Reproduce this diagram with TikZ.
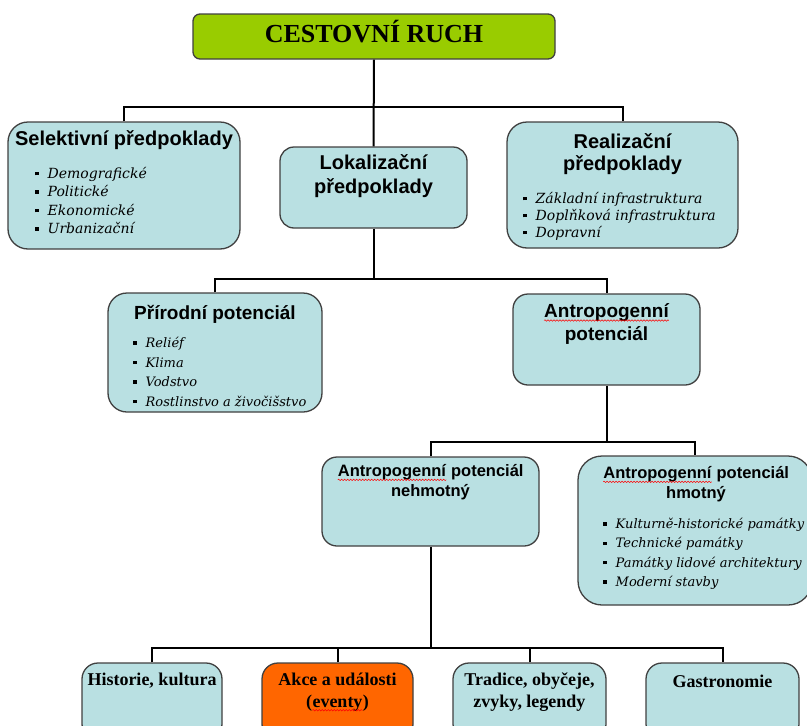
\documentclass[tikz,border=0pt]{standalone}
\usepackage{fontspec}
\setmainfont{Liberation Serif}
\setsansfont{Liberation Sans}
\newfontfamily\itemfont{DejaVu Serif}
\usetikzlibrary{decorations.pathmorphing}

\definecolor{boxblue}{RGB}{185,224,226}
\definecolor{boxgreen}{RGB}{153,204,0}
\definecolor{boxorange}{RGB}{255,102,0}
\definecolor{boxline}{RGB}{64,64,64}

\newcommand\blt{\rule[0.22em]{3.5pt}{3.5pt}\hspace{9pt}}
\newcommand\wavy[1]{\tikz[baseline=(w.base)]{\node[inner sep=0pt,anchor=base] (w) {#1};
  \draw[red,line width=0.5pt,decorate,decoration={snake,amplitude=0.7pt,segment length=3pt}]
    ([yshift=-3pt]w.base west) -- ([yshift=-3pt]w.base east);}}

\begin{document}
\begin{tikzpicture}[x=1pt,y=-1pt,
  box/.style={draw=boxline,line width=1.3pt,fill=boxblue,rounded corners=#1,inner sep=0pt},
  box/.default=16pt,
  head/.style 2 args={font=\sffamily\bfseries\fontsize{#1}{#2}\selectfont,align=center,inner sep=0pt},
  items/.style 2 args={font=\itemfont\itshape\fontsize{#1}{#2}\selectfont,align=left,anchor=north west,inner sep=0pt},
  serifhead/.style={font=\bfseries\fontsize{18}{22}\selectfont,align=center,inner sep=0pt},
  link/.style={line width=2pt}]
\useasboundingbox (0,0) rectangle (807,726);
\clip (0,0) rectangle (807,726);

% boxes
\node[box=7pt,fill=boxgreen,minimum width=362pt,minimum height=45pt] (ruch) at (374,36.5) {};
\node[box=20pt,minimum width=232pt,minimum height=127pt] (sel) at (124,185.5) {};
\node[box=14pt,minimum width=187pt,minimum height=81pt] (lok) at (373.5,187.5) {};
\node[box=20pt,minimum width=231pt,minimum height=126pt] (real) at (622.5,185) {};
\node[box=19pt,minimum width=214pt,minimum height=119pt] (prir) at (215,352.5) {};
\node[box=15pt,minimum width=187pt,minimum height=91pt] (antr) at (606.5,339.5) {};
\node[box=15pt,minimum width=217pt,minimum height=89pt] (nehm) at (430.5,501.5) {};
\node[box=24pt,minimum width=234pt,minimum height=149pt] (hmot) at (695,530.5) {};
\node[box,minimum width=140pt,minimum height=77pt] (hist) at (152,701.5) {};
\node[box,fill=boxorange,minimum width=151pt,minimum height=77pt] (akce) at (337.5,701.5) {};
\node[box,minimum width=153pt,minimum height=77pt] (trad) at (529.5,701.5) {};
\node[box,minimum width=153pt,minimum height=77pt] (gast) at (722.5,701.5) {};

% texts
\node[font=\bfseries\fontsize{26}{30}\selectfont,inner sep=0pt] (ruchT) at (374,32) {CESTOVNÍ RUCH};
\node[head={20}{24}] (selT) at (124,140) {Selektivní předpoklady};
\node[items={14}{18.5}] (selI) at (35,167) {\blt Demografické\\\blt Politické\\\blt Ekonomické\\\blt Urbanizační};
\node[head={20}{24}] (lokT) at (373.5,176.5) {Lokalizační\\předpoklady};
\node[head={20}{22}] (realT) at (622.5,154) {Realizační\\předpoklady};
\node[items={14}{17}] (realI) at (523,192) {\blt Základní infrastruktura\\\blt Doplňková infrastruktura\\\blt Dopravní};
\node[head={19}{23}] (prirT) at (215,314) {Přírodní potenciál};
\node[items={13}{19.5}] (prirI) at (133,337) {\blt Reliéf\\\blt Klima\\\blt Vodstvo\\\blt Rostlinstvo a živočišstvo};
\node[head={19}{23}] (antrT) at (606.5,324) {\wavy{Antropogenní}\\potenciál};
\node[head={16.5}{20}] (nehmT) at (430.5,482.5) {\wavy{Antropogenní} potenciál\\nehmotný};
\node[head={16.5}{20}] (hmotT) at (696,484.5) {\wavy{Antropogenní} potenciál\\hmotný};
\node[items={13}{19.3}] (hmotI) at (603,518) {\blt Kulturně-historické památky\\\blt Technické památky\\\blt Památky lidové architektury\\\blt Moderní stavby};
\node[serifhead] (histT) at (152,681) {Historie, kultura};
\node[serifhead] (akceT) at (337.5,692) {Akce a události\\(\wavy{eventy})};
\node[serifhead] (tradT) at (529.5,692) {Tradice, obyčeje,\\zvyky, legendy};
\node[serifhead] (gastT) at (722.5,681) {Gastronomie};

% connectors
\coordinate (j1) at (374,107);
\coordinate (j2) at (373.5,279);
\coordinate (j3) at (606.5,442);
\coordinate (j4) at (430.5,648);
\draw[link] (ruch.south) -- (lok.north);
\draw[link] (sel.north) |- (j1) -| (real.north);
\draw[link] (lok.south) -- (j2);
\draw[link] (prir.north) |- (j2) -| (antr.north);
\draw[link] (antr.south) -- (j3);
\draw[link] (nehm.north) |- (j3) -| (hmot.north);
\draw[link] (nehm.south) -- (j4);
\draw[link] (hist.north) |- (j4) -| (gast.north);
\draw[link] (akce.north) -- (akce.north |- j4);
\draw[link] (trad.north) -- (trad.north |- j4);
\end{tikzpicture}
\end{document}
